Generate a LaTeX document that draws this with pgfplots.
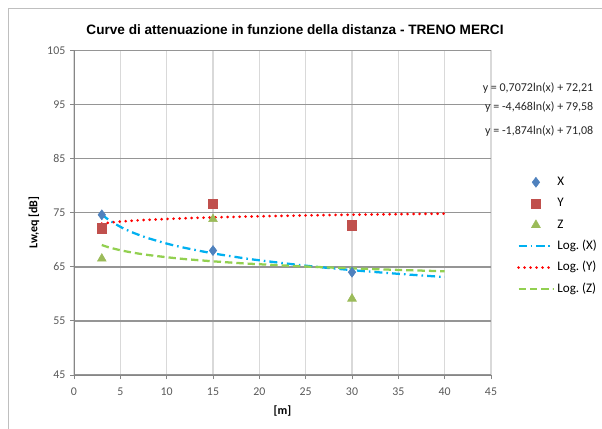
\documentclass[border=0pt]{standalone}
\usepackage{fontspec}
\setmainfont{Carlito}
\newfontfamily\titlefont{Liberation Sans}
\usepackage{pgfplots}
\pgfplotsset{compat=1.18}
\frenchspacing

\definecolor{serX}{HTML}{4F81BD}
\definecolor{serY}{HTML}{C0504D}
\definecolor{serZ}{HTML}{9BBB59}
\definecolor{trX}{HTML}{00B0F0}
\definecolor{trY}{HTML}{FF0000}
\definecolor{trZ}{HTML}{92D050}
\definecolor{axisgray}{HTML}{868686}
\definecolor{gridlight}{HTML}{D9D9D9}
\definecolor{griddark}{HTML}{959595}
\definecolor{labgray}{HTML}{595959}
\definecolor{framegray}{HTML}{BFBFBF}

\begin{document}
\begin{tikzpicture}[x=0.75pt,y=0.75pt]
\begin{axis}[
    at={(55.5pt,39.75pt)}, anchor=south west,
    scale only axis, width=312.75pt, height=243.5pt,
    xmin=0, xmax=45, ymin=45, ymax=105,
    xtick={0,5,...,45}, ytick={45,55,...,105},
    axis x line*=bottom, axis y line*=left,
    axis line style={draw=axisgray, line width=0.75pt},
    tick align=outside, major tick length=3pt,
    tick style={draw=axisgray, line width=0.75pt},
    xmajorgrids, ymajorgrids,
    x grid style={draw=gridlight, line width=0.9pt},
    y grid style={draw=griddark, line width=1.1pt},
    ticklabel style={font=\fontsize{8.9}{10}\selectfont, text=labgray},
    xticklabel style={yshift=-3pt},
    /pgf/number format/assume math mode=true,
    xlabel={[m]}, ylabel={Lw,eq [dB]},
    label style={font=\fontsize{9}{10}\selectfont\bfseries},
    xlabel style={at={(axis description cs:0.5,-0.111)}, anchor=center},
    ylabel style={at={(axis description cs:-0.096,0.47)}, anchor=center},
    legend image code/.code={\draw[mark repeat=2,mark phase=2,#1] plot coordinates {(0pt,0pt) (13pt,0pt) (26pt,0pt)};},
    legend cell align=left,
    legend style={draw=none, fill=none, at={(1.062,0.617)}, anchor=north west,
        inner sep=0pt, row sep=5.0pt, font=\fontsize{9.8}{10}\selectfont,
        nodes={inner ysep=0pt, inner xsep=2pt, text height=8pt, text depth=3pt}},
]
\addplot[only marks, mark=diamond*, mark size=3.75pt, color=serX] coordinates {(3,74.6)(15,68.0)(30,64.0)};
\addlegendentry{X}
\addplot[only marks, mark=square*, mark size=3.5pt, color=serY] coordinates {(3,72.1)(15,76.6)(30,72.7)};
\addlegendentry{Y}
\addplot[only marks, mark=triangle*, mark size=3.8pt, color=serZ] coordinates {(3,66.5)(15,73.8)(30,59.1)};
\addlegendentry{Z}

\addplot[no marks, smooth, color=trX, line width=1.7pt, dash pattern=on 6pt off 3pt on 1.2pt off 3pt] coordinates {
(3,74.67)(3.5,73.98)(4,73.39)(5,72.39)(6,71.57)(7,70.89)(8,70.29)(10,69.29)(12,68.48)(15,67.48)(18,66.67)(20,66.20)(25,65.20)(30,64.38)(35,63.70)(40,63.10)};
\addlegendentry{Log. (X)}
\addplot[no marks, smooth, color=trY, line width=2.2pt, line cap=round, dash pattern=on 0pt off 4.5pt] coordinates {
(3,72.99)(3.5,73.10)(4,73.19)(5,73.35)(6,73.48)(7,73.59)(8,73.68)(10,73.84)(12,73.97)(15,74.13)(18,74.25)(20,74.33)(25,74.49)(30,74.62)(35,74.72)(40,74.82)};
\addlegendentry{Log. (Y)}
\addplot[no marks, smooth, color=trZ, line width=1.7pt, dash pattern=on 5.5pt off 3pt] coordinates {
(3,69.02)(3.5,68.73)(4,68.48)(5,68.06)(6,67.72)(7,67.43)(8,67.18)(10,66.77)(12,66.42)(15,66.01)(18,65.66)(20,65.47)(25,65.05)(30,64.71)(35,64.42)(40,64.17)};
\addlegendentry{Log. (Z)}
\end{axis}

% chart title and trendline equations
\node[font=\fontsize{10.2}{12}\selectfont\titlefont\bfseries] at (295,398) {Curve di attenuazione in funzione della distanza - TRENO MERCI};
\node[anchor=east, font=\fontsize{9}{10}\selectfont, text=black!85] at (598,340) {y = 0,7072ln(x) + 72,21};
\node[anchor=east, font=\fontsize{9}{10}\selectfont, text=black!85] at (598,321) {y = -4,468ln(x) + 79,58};
\node[anchor=east, font=\fontsize{9}{10}\selectfont, text=black!85] at (598,297) {y = -1,874ln(x) + 71,08};

% chart area frame (cropped at right and bottom)
\draw[framegray, line width=0.75pt] (8,-20) -- (8,419) -- (640,419);
\pgfresetboundingbox
\path[use as bounding box] (0,0) rectangle (602,428);
\end{tikzpicture}
\end{document}
